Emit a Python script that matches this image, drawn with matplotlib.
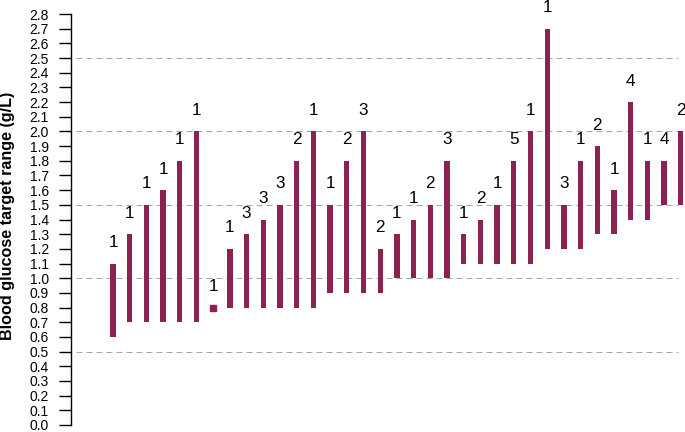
import numpy as np
import matplotlib
matplotlib.use("Agg")
import matplotlib.pyplot as plt

plt.rcParams['font.family'] = ['Liberation Sans', 'DejaVu Sans']

# plage basse / haute de chaque objectif glycemique (g/L) et nombre d'etudes
low = [0.6, 0.7, 0.7, 0.7, 0.7, 0.7, 0.8, 0.8, 0.8, 0.8, 0.8, 0.8, 0.8,
       0.9, 0.9, 0.9, 0.9, 1.0, 1.0, 1.0, 1.0, 1.1, 1.1, 1.1, 1.1, 1.1,
       1.2, 1.2, 1.2, 1.3, 1.3, 1.4, 1.4, 1.5, 1.5]
high = [1.1, 1.3, 1.5, 1.6, 1.8, 2.0, 0.8, 1.2, 1.3, 1.4, 1.5, 1.8, 2.0,
        1.5, 1.8, 2.0, 1.2, 1.3, 1.4, 1.5, 1.8, 1.3, 1.4, 1.5, 1.8, 2.0,
        2.7, 1.5, 1.8, 1.9, 1.6, 2.2, 1.8, 1.8, 2.0]
counts = [1, 1, 1, 1, 1, 1, 1, 1, 3, 3, 3, 2, 1,
          1, 2, 3, 2, 1, 1, 2, 3, 1, 2, 1, 5, 1,
          1, 3, 1, 2, 1, 4, 1, 4, 2]
yticks = np.round(np.arange(0, 2.81, 0.1), 1)
gridlines = [0.5, 1.0, 1.5, 2.0, 2.5]

col = '#8B2252'
x = np.arange(len(low))
lo = np.array(low)
hi = np.array(high)

fig = plt.figure(figsize=(6.85, 4.32), dpi=100)
ax = fig.add_axes([71/685, 7/432, 614/685, 411/432])

ax.hlines(gridlines, -2.2, 33.85, colors='#a8a8a8', lw=0.72,
          linestyles=(0, (6, 4)), zorder=1)

ax.bar(x, hi - lo, bottom=lo, width=0.32, color=col, zorder=2)
# plage reduite a une seule valeur -> petit carre
flat = hi == lo
ax.plot(x[flat], lo[flat], 's', color=col, ms=4.5, zorder=2)

for xi, h, n in zip(x, hi, counts):
    ax.annotate(str(n), (xi, h), xytext=(0, 11.8), textcoords='offset points',
                ha='center', va='baseline', fontsize=12.3, annotation_clip=False)

ax.set_xlim(-2.515, 34.25)
ax.set_ylim(0, 2.8)
ax.set_yticks(yticks)
ax.set_yticklabels([f"{v:.1f}" for v in yticks], fontsize=10)
ax.tick_params(axis='y', length=8.5, width=1, pad=7.5)
ax.set_xticks([])
for s in ['top', 'right', 'bottom']:
    ax.spines[s].set_visible(False)
ax.spines['left'].set_linewidth(1)

fig.text(7.5/685, 0.5, 'Blood glucose target range (g/L)',
         rotation=90, fontsize=11.6, fontweight='bold', ha='center', va='center')

fig.savefig('out.png', dpi=100)
